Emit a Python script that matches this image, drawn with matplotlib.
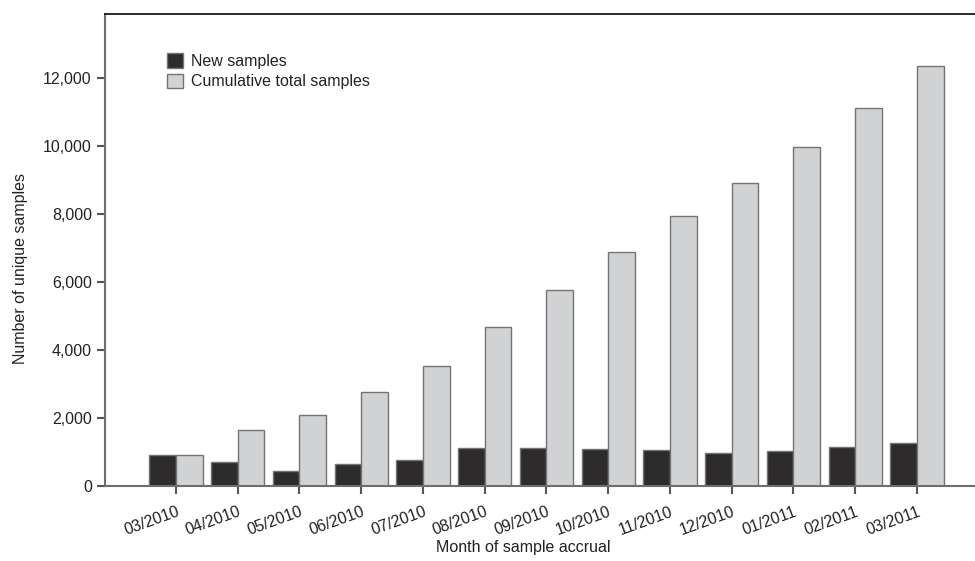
import matplotlib
matplotlib.use('Agg')
import matplotlib.pyplot as plt
import numpy as np

plt.rcParams['font.family'] = ['Liberation Sans', 'DejaVu Sans']

months = ["03/2010", "04/2010", "05/2010", "06/2010", "07/2010", "08/2010", "09/2010",
          "10/2010", "11/2010", "12/2010", "01/2011", "02/2011", "03/2011"]
new_samples = [900, 706, 450, 647, 765, 1118, 1118, 1088, 1059, 971, 1029, 1147, 1265]
cumulative = [900, 1647, 2088, 2755, 3530, 4676, 5765, 6882, 7941, 8912, 9970, 11120, 12360]

fig = plt.figure(figsize=(9.75, 5.61), dpi=100)
ax = fig.add_axes([105/975, 1 - 486/561, 1 - 105/975, (486 - 14)/561])

x = np.arange(len(months))
w = 0.43
edge = '#747474'
ax.bar(x - w/2, new_samples, w, color='#2d2b2c', edgecolor=edge, linewidth=1.0,
       label='New samples', zorder=2)
ax.bar(x + w/2, cumulative, w, color='#d1d2d4', edgecolor=edge, linewidth=1.0,
       label='Cumulative total samples', zorder=2)

ax.set_xlim(-1.15, 12.94)
ax.set_ylim(0, 13880)
ax.set_yticks(np.arange(0, 12001, 2000))
ax.set_yticklabels(["{:,}".format(v) for v in range(0, 12001, 2000)])
ax.set_xticks(x)
ax.set_xticklabels(months, rotation=20, ha='right', rotation_mode='anchor')

ax.tick_params(axis='both', direction='out', length=6, width=1.5, color='#555555',
               labelsize=11.5, labelcolor='#222222')
ax.tick_params(axis='x', pad=7)

ax.spines['right'].set_visible(False)
ax.spines['left'].set_color('#6e6e6e')
ax.spines['left'].set_linewidth(1.5)
ax.spines['bottom'].set_color('#6e6e6e')
ax.spines['bottom'].set_linewidth(1.5)
ax.spines['top'].set_color('#1a1a1a')
ax.spines['top'].set_linewidth(1.3)

ax.set_ylabel('Number of unique samples', fontsize=11.5, color='#222222')
ax.yaxis.set_label_coords(-0.088, 0.46)
ax.set_xlabel('Month of sample accrual', fontsize=11.5, color='#222222')
ax.xaxis.set_label_coords((523 - 105)/870, -0.114)

leg = ax.legend(loc='upper left', bbox_to_anchor=(0.064, 0.93), frameon=False,
                fontsize=11.5, handlelength=1.0, handleheight=1.0, handletextpad=0.5,
                labelspacing=0.3, borderaxespad=0)
for t in leg.get_texts():
    t.set_color('#222222')

fig.savefig('out.png', dpi=100)
